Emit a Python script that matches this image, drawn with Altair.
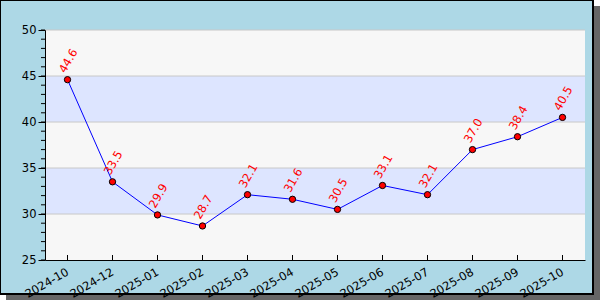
import altair as alt
import pandas as pd

months = ["2024-10", "2024-12", "2025-01", "2025-02", "2025-03", "2025-04",
          "2025-05", "2025-06", "2025-07", "2025-08", "2025-09", "2025-10"]
values = [44.6, 33.5, 29.9, 28.7, 32.1, 31.6, 30.5, 33.1, 32.1, 37.0, 38.4, 40.5]
band_lo = [25, 30, 35, 40, 45]
band_hi = [30, 35, 40, 45, 50]
band_fill = ["#F7F7F7", "#DDE5FF", "#F7F7F7", "#DDE5FF", "#F7F7F7"]
grid_vals = [30, 35, 40, 45, 50]
major_ticks = [25, 30, 35, 40, 45, 50]
minor_ticks = list(range(25, 51))

W, H = 540, 230
FONT = "DejaVu Sans"

df = pd.DataFrame({"month": months, "value": values})
bands = pd.DataFrame({"lo": band_lo, "hi": band_hi, "fill": band_fill})
grid = pd.DataFrame({"v": grid_vals})
minor = pd.DataFrame({"v": minor_ticks})
one = alt.Data(values=[{"a": 1}])

yscale = alt.Scale(domain=[25, 50], nice=False, zero=False)
xscale = alt.Scale(type="point", padding=0.5)
yaxis = alt.Axis(values=major_ticks, tickSize=7, tickColor="black", domainColor="black",
                 labelColor="black", labelFontSize=11.5, labelFont=FONT, labelPadding=2,
                 grid=False, title=None, zindex=1)
xaxis = alt.Axis(ticks=False, domainColor="black", labelColor="black", labelFontSize=11.5,
                 labelFont=FONT, labelAngle=330, labelAlign="right", labelBaseline="top",
                 labelPadding=6, labelOffset=-3, grid=False, title=None, zindex=1)

shadow = alt.Chart(one).mark_rect(fill="#666666").encode(
    x=alt.value(-39), x2=alt.value(555), y=alt.value(-24), y2=alt.value(270))
frame = alt.Chart(one).mark_rect(fill="#ADD8E6", stroke="black", strokeWidth=2).encode(
    x=alt.value(-45), x2=alt.value(548), y=alt.value(-30), y2=alt.value(264))

band_layer = alt.Chart(bands).mark_rect().encode(
    x=alt.value(0), x2=alt.value(W),
    y=alt.Y("lo:Q", scale=yscale, axis=yaxis), y2="hi:Q",
    color=alt.Color("fill:N", scale=None))

grid_layer = alt.Chart(grid).mark_rule(color="#C8C8C8", strokeWidth=1).encode(
    x=alt.value(0), x2=alt.value(W), y=alt.Y("v:Q", scale=yscale, axis=yaxis))

minor_layer = alt.Chart(minor).mark_rule(color="black", strokeWidth=1).encode(
    x=alt.value(-4), x2=alt.value(0), y=alt.Y("v:Q", scale=yscale, axis=yaxis))

base = alt.Chart(df).encode(
    x=alt.X("month:O", sort=None, scale=xscale, axis=xaxis),
    y=alt.Y("value:Q", scale=yscale, axis=yaxis))

xticks = base.mark_rule(color="black", strokeWidth=1).encode(
    y=alt.value(H - 5), y2=alt.value(H))

line = base.mark_line(color="#0000FF", strokeWidth=1)
points = base.mark_point(filled=True, fill="red", stroke="black", strokeWidth=1,
                         size=40, opacity=1, shape="circle")
labels = base.mark_text(angle=300, align="left", baseline="middle", dx=4, dy=-8,
                        color="red", fontSize=11.5, font=FONT).encode(
    text=alt.Text("value:Q", format=".1f"))

chart = alt.layer(shadow, frame, band_layer, grid_layer, minor_layer, xticks,
                  line, points, labels).properties(
    width=W, height=H,
    autosize=alt.AutoSizeParams(type="none"),
    padding={"left": 45, "top": 30, "right": 15, "bottom": 40},
    background="white",
).configure_view(stroke=None, fill=None)

chart.save("out.html", embed_options={"renderer": "svg", "actions": False})
